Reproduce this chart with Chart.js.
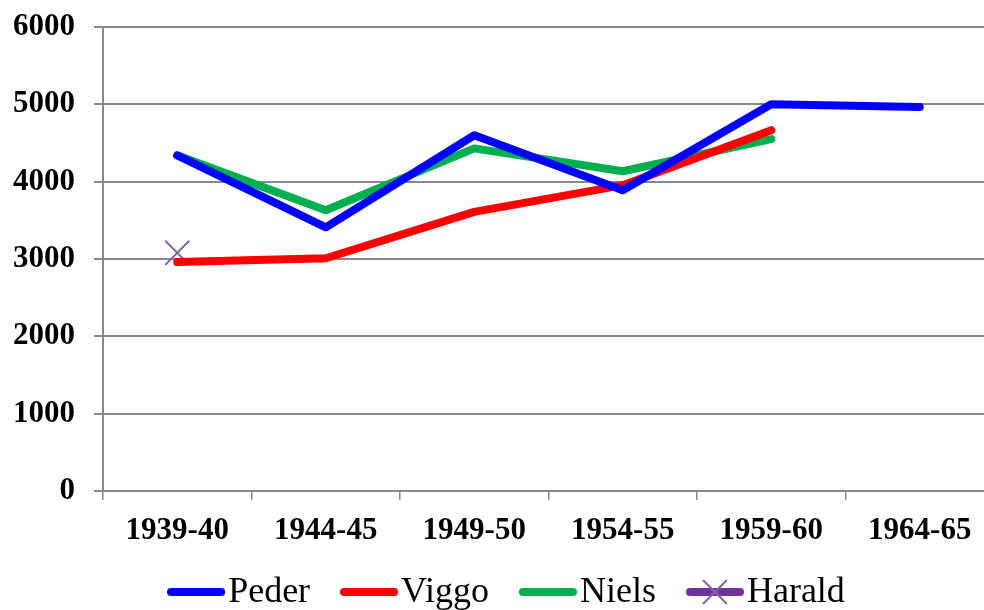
<!DOCTYPE html>
<html>
<head>
<meta charset="utf-8">
<script src="https://cdn.jsdelivr.net/npm/chart.js@4"></script>
<style>
  html, body { margin: 0; padding: 0; background: #fff; overflow: hidden; }
  #wrap { width: 1013px; height: 610px; }
</style>
</head>
<body>
<div id="wrap"><canvas id="chart" width="1013" height="610"></canvas></div>
<script>
// chart values
const seasons = ['1939-40', '1944-45', '1949-50', '1954-55', '1959-60', '1964-65'];
const peder  = [4340, 3410, 4600, 3890, 5000, 4965];
const viggo  = [2960, 3010, 3610, 3955, 4665, null];
const niels  = [4340, 3630, 4430, 4135, 4550, null];
const harald = [3080, null, null, null, null, null];
const yTicks = [0, 1000, 2000, 3000, 4000, 5000, 6000];

const serif = "'Liberation Serif', 'Times New Roman', serif";
const gridGray = '#898989';

// legend swatch: thick round-capped line, optional cross marker
function swatch(color, markColor) {
    const c = document.createElement('canvas');
    c.width = 58; c.height = 26;
    const g = c.getContext('2d');
    g.strokeStyle = color;
    g.lineWidth = 8;
    g.lineCap = 'round';
    g.beginPath();
    g.moveTo(4, 13);
    g.lineTo(54, 13);
    g.stroke();
    if (markColor) {
        g.strokeStyle = markColor;
        g.lineWidth = 2;
        g.lineCap = 'butt';
        g.beginPath();
        g.moveTo(17, 1); g.lineTo(41, 25);
        g.moveTo(41, 1); g.lineTo(17, 25);
        g.stroke();
    }
    return c;
}

function lineSet(label, data, color) {
    return {
        label: label,
        data: data,
        borderColor: color,
        backgroundColor: color,
        borderWidth: 8,
        borderCapStyle: 'round',
        borderJoinStyle: 'round',
        pointRadius: 0,
        pointHoverRadius: 0,
        tension: 0,
        spanGaps: false,
        legendSwatch: swatch(color)
    };
}

const datasets = [
    lineSet('Peder', peder, '#0000ff'),
    lineSet('Viggo', viggo, '#ff0000'),
    lineSet('Niels', niels, '#00b050'),
    {
        label: 'Harald',
        data: harald,
        borderColor: '#7030a0',
        backgroundColor: '#7030a0',
        borderWidth: 8,
        showLine: false,
        pointStyle: 'crossRot',
        pointRadius: 17,
        pointBorderColor: '#8064a2',
        pointBorderWidth: 2,
        legendSwatch: swatch('#7030a0', '#8064a2')
    }
];

// bottom legend drawn from the datasets: swatch, small gap, label
const bottomLegend = {
    id: 'bottomLegend',
    afterDraw(chart) {
        const ctx = chart.ctx;
        const font = '36px ' + serif;
        const gap = 3, spacing = 30, cy = 592;
        ctx.save();
        ctx.font = font;
        const items = chart.data.datasets.map(function (ds) {
            return { img: ds.legendSwatch, text: ds.label, w: ctx.measureText(ds.label).width };
        });
        let total = 0;
        items.forEach(function (it, i) {
            total += it.img.width + gap + it.w + (i ? spacing : 0);
        });
        let x = 506 - total / 2;
        ctx.fillStyle = '#000';
        ctx.textBaseline = 'middle';
        items.forEach(function (it) {
            ctx.drawImage(it.img, x, cy - it.img.height / 2);
            x += it.img.width + gap;
            ctx.fillText(it.text, x, cy + 1);
            x += it.w + spacing;
        });
        ctx.restore();
    }
};

new Chart(document.getElementById('chart'), {
    type: 'line',
    data: { labels: seasons, datasets: datasets },
    plugins: [bottomLegend],
    options: {
        responsive: false,
        animation: false,
        events: [],
        layout: { padding: { top: 27, left: 0, right: 0, bottom: 0 } },
        plugins: {
            tooltip: { enabled: false },
            legend: { display: false }
        },
        scales: {
            x: {
                offset: true,
                grid: {
                    offset: true,
                    drawOnChartArea: false,
                    drawTicks: true,
                    tickLength: 9,
                    color: gridGray,
                    lineWidth: 1.5
                },
                border: { color: gridGray, width: 2 },
                ticks: {
                    font: { family: serif, size: 31, weight: 'bold' },
                    color: '#000',
                    padding: 12,
                    maxRotation: 0,
                    autoSkip: false
                },
                afterFit: function (scale) {
                    scale.height = 610 - 491;
                }
            },
            y: {
                min: 0,
                max: 6000,
                afterBuildTicks: function (scale) {
                    scale.ticks = yTicks.map(function (v) { return { value: v }; });
                },
                grid: {
                    color: gridGray,
                    lineWidth: 2,
                    tickLength: 9
                },
                border: { color: gridGray, width: 2 },
                ticks: {
                    font: { family: serif, size: 31, weight: 'bold' },
                    color: '#000',
                    padding: 19,
                    callback: function (v) { return String(v); }
                },
                afterFit: function (scale) {
                    scale.width = 103;
                    scale.paddingTop = 0;
                    scale.paddingBottom = 0;
                }
            }
        }
    }
});
</script>
</body>
</html>
